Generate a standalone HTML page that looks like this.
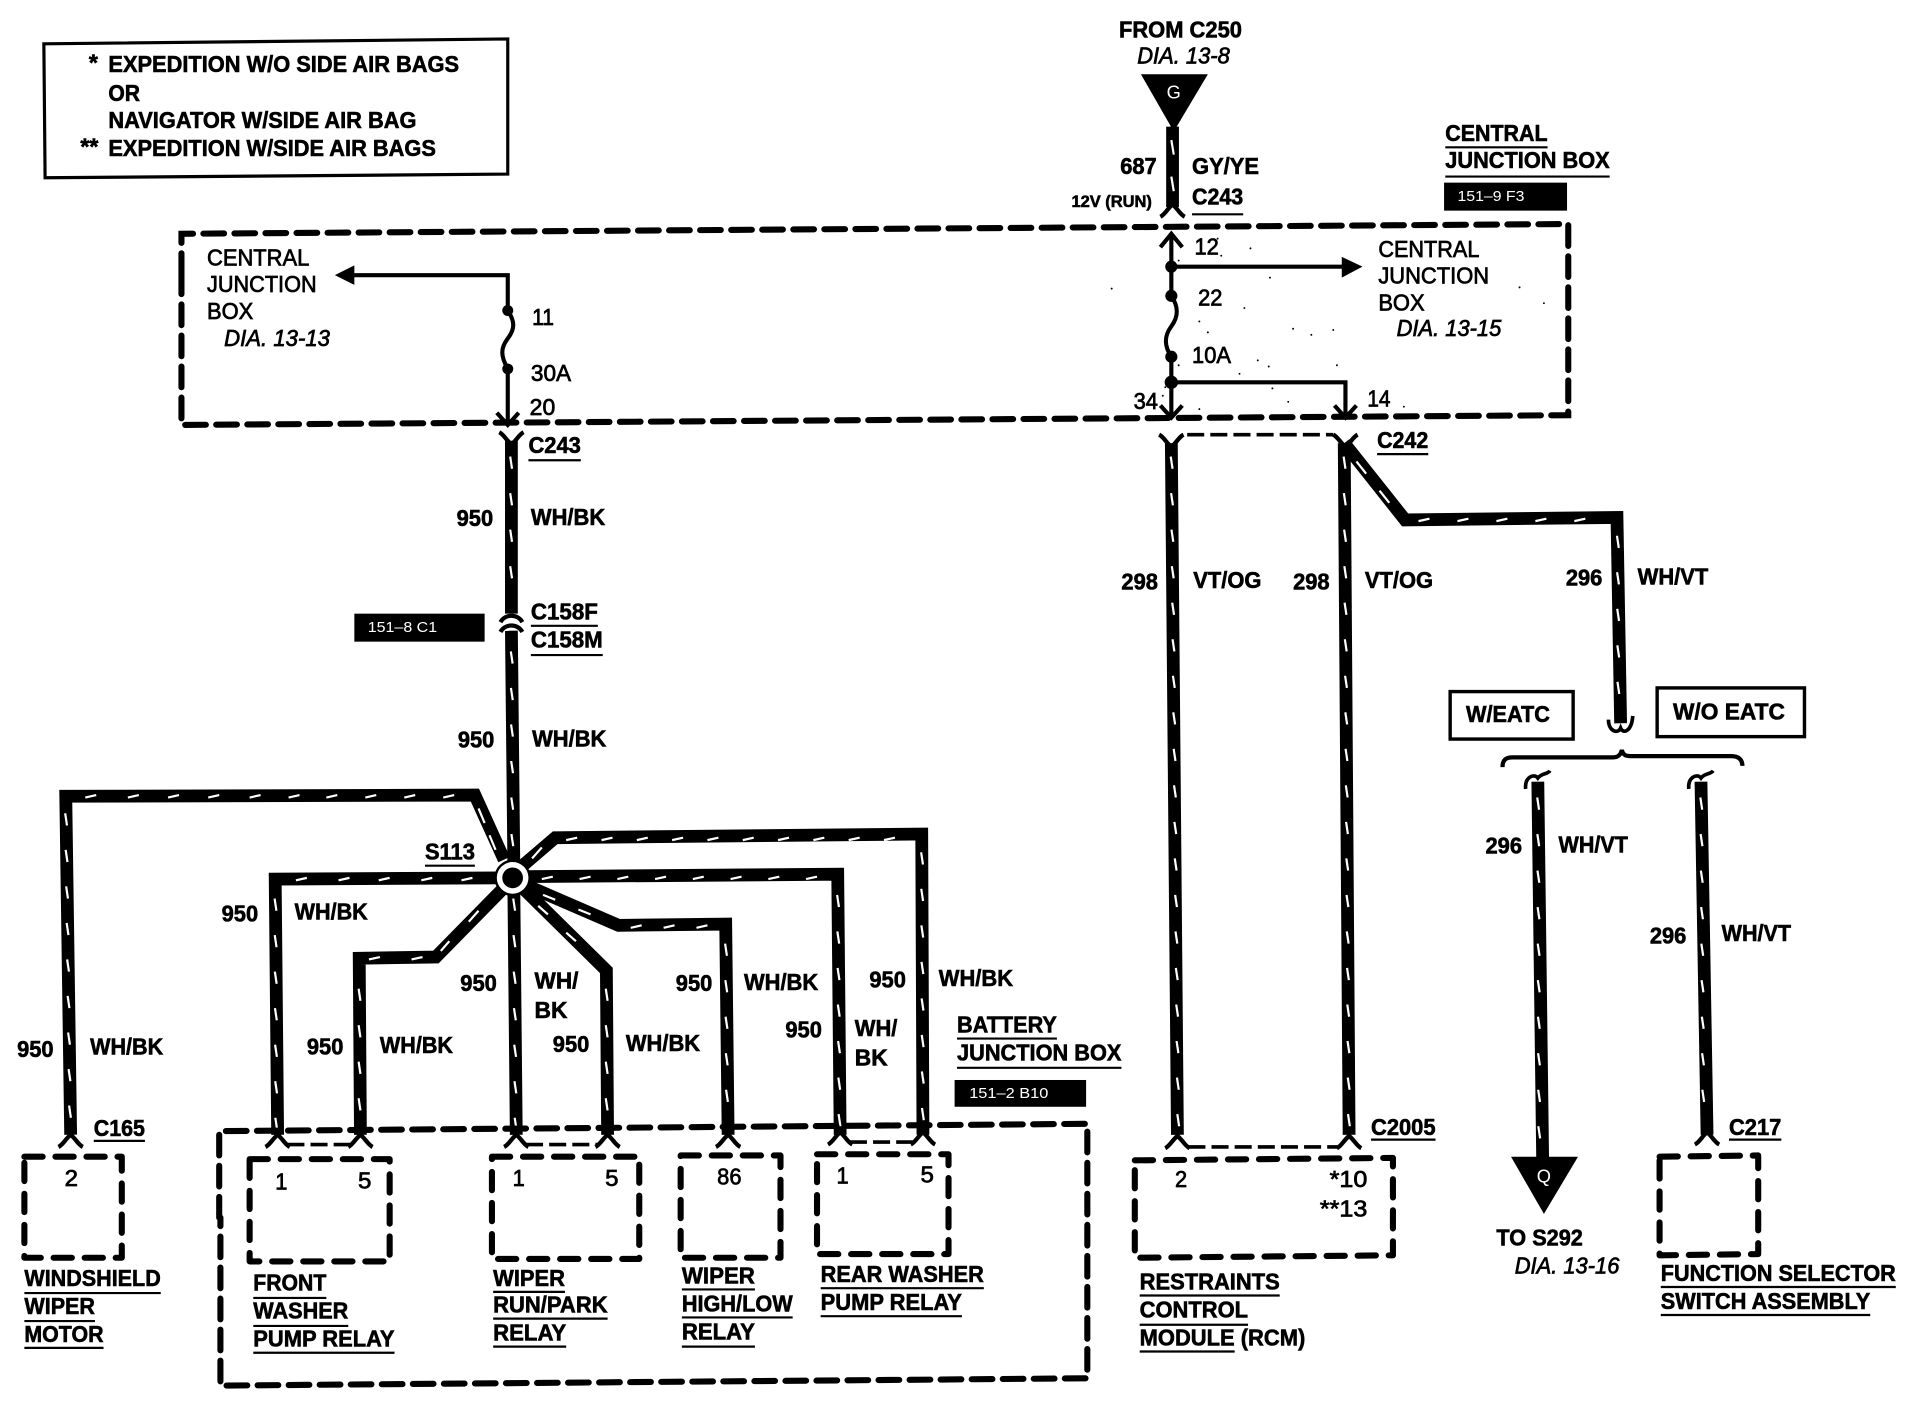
<!DOCTYPE html>
<html><head><meta charset="utf-8"><style>
html,body{margin:0;padding:0;background:#fff}
svg{display:block}
text{font-family:"Liberation Sans",Arial,sans-serif;font-size:19px;fill:#000;font-weight:bold;stroke:#000;stroke-width:.5px}
.r{font-weight:normal;stroke-width:.6px}
.i{font-style:italic;font-weight:normal;stroke-width:.6px}
.s{font-size:14px}
.w{font-weight:normal;font-size:12px;fill:#fff;stroke:none}
.k{fill:none;stroke:#000;stroke-width:10.5;stroke-linejoin:miter}
.d{fill:none;stroke:#fff;stroke-width:1.8}
.b{fill:none;stroke:#000;stroke-width:5;stroke-dasharray:17 8.5;stroke-linecap:round}
.c{fill:none;stroke:#000;stroke-width:5;stroke-dasharray:15 10.5;stroke-linecap:round;stroke-linejoin:round}
.t{fill:none;stroke:#000;stroke-width:3.4}
.u{stroke:#000;stroke-width:1.8}
.f{fill:none;stroke:#000;stroke-width:3.5}
.n{fill:none;stroke:#000;stroke-width:3;stroke-dasharray:14 5}
.p{fill:none;stroke:#000;stroke-width:1.6;stroke-linecap:round}
</style></head><body>
<svg width="1908" height="1408" viewBox="0 0 1567 1156.4" xmlns="http://www.w3.org/2000/svg">
<rect width="1567" height="1157" fill="#fff"/>
<defs>
<path id="fd" d="M-10,7 C-6,5 -4,0 0,-3 C4,0 6,5 10,7" fill="none" stroke="#000" stroke-width="3.5"/>
<path id="fu" d="M-10,-7 C-6,-5 -4,0 0,3 C4,0 6,-5 10,-7" fill="none" stroke="#000" stroke-width="3.5"/>
<path id="cu" d="M-10,-4 C-10,6 -2,8 0,3 C2,8 9,6 10,-7" fill="none" stroke="#000" stroke-width="3"/>
<path id="cd" d="M-10,6 C-11,-4 -3,-7 0,-3 C3,-7 8,-6 10,-9" fill="none" stroke="#000" stroke-width="3"/>
</defs>

<!-- legend -->
<polygon points="36,36 417,32 417,143 37,146" fill="none" stroke="#000" stroke-width="2.6"/>
<text x="73" y="58">*</text><text x="89" y="59" textLength="288" lengthAdjust="spacingAndGlyphs">EXPEDITION W/O SIDE AIR BAGS</text>
<text x="89" y="83" textLength="26" lengthAdjust="spacingAndGlyphs">OR</text>
<text x="89" y="105" textLength="253" lengthAdjust="spacingAndGlyphs">NAVIGATOR W/SIDE AIR BAG</text>
<text x="66" y="127">**</text><text x="89" y="128" textLength="269" lengthAdjust="spacingAndGlyphs">EXPEDITION W/SIDE AIR BAGS</text>

<!-- top feed -->
<text x="919" y="31" textLength="101" lengthAdjust="spacingAndGlyphs">FROM C250</text>
<text class="i" x="934" y="52" textLength="76" lengthAdjust="spacingAndGlyphs">DIA. 13-8</text>
<polygon points="937,61 992,61 964,108" fill="#000"/>
<text class="w" x="964" y="81" text-anchor="middle" style="font-size:15px">G</text>
<path class="k" d="M963,104V170"/><path class="d" d="M962,115l2,12M962,145l2,12"/>
<use href="#fd" x="963" y="171"/>
<text x="920" y="143" textLength="30" lengthAdjust="spacingAndGlyphs">687</text>
<text x="979" y="143" textLength="55" lengthAdjust="spacingAndGlyphs">GY/YE</text>
<text class="s" x="880" y="170" textLength="66" lengthAdjust="spacingAndGlyphs">12V (RUN)</text>
<text x="979" y="168" textLength="42" lengthAdjust="spacingAndGlyphs">C243</text>
<line class="u" x1="979" y1="176" x2="1021" y2="176"/>

<!-- central junction box label -->
<text x="1187" y="116" textLength="84" lengthAdjust="spacingAndGlyphs">CENTRAL</text>
<line class="u" x1="1187" y1="121" x2="1271" y2="121"/>
<text x="1187" y="138" textLength="135" lengthAdjust="spacingAndGlyphs">JUNCTION BOX</text>
<line class="u" x1="1187" y1="145" x2="1322" y2="145"/>
<rect x="1186" y="150" width="101" height="23" fill="#000"/>
<text class="w" x="1197" y="165" textLength="55" lengthAdjust="spacingAndGlyphs">151–9 F3</text>

<!-- main dashed box -->
<path class="b" d="M149,225V192L1288,184V341L149,349V225"/>

<!-- left side of junction box -->
<text class="r" x="170" y="218" textLength="84" lengthAdjust="spacingAndGlyphs">CENTRAL</text>
<text class="r" x="170" y="240" textLength="90" lengthAdjust="spacingAndGlyphs">JUNCTION</text>
<text class="r" x="170" y="262" textLength="38" lengthAdjust="spacingAndGlyphs">BOX</text>
<text class="i" x="184" y="284" textLength="87" lengthAdjust="spacingAndGlyphs">DIA. 13-13</text>
<path class="t" d="M290,226H417V255C423,264 423,270 417,278C411,286 411,292 417,303V347"/>
<polygon points="275,226 291,218 291,234" fill="#000"/>
<circle cx="417" cy="255" r="4.5"/><circle cx="417" cy="303" r="4.5"/>
<path class="t" d="M408,339L417,349L426,339"/>
<text x="437" y="267" class="r" textLength="18" lengthAdjust="spacingAndGlyphs">11</text>
<text x="436" y="313" class="r" textLength="33" lengthAdjust="spacingAndGlyphs">30A</text>
<text x="435" y="341" class="r" textLength="21" lengthAdjust="spacingAndGlyphs">20</text>

<!-- right side of junction box -->
<path class="t" d="M962,193V243C968,252 968,260 962,268C956,276 956,284 962,293V342"/>
<path class="t" d="M953,203L962,192L971,203"/>
<path class="t" d="M962,219H1104"/><polygon points="1119,219 1102,211 1102,228" fill="#000"/>
<path class="t" d="M962,314H1105V342"/>
<path class="t" d="M953,333L962,343L971,333"/><path class="t" d="M1096,333L1105,343L1114,333"/>
<circle cx="962" cy="219" r="5"/><circle cx="962" cy="243" r="5"/><circle cx="962" cy="293" r="5"/><circle cx="962" cy="314" r="5.5"/>
<path class="p" d="M1027,204h0M1043,228h0M913,237h0M985,264h0M992,273h0M1033,296h0M1042,301h0M1098,300h0M1062,270h0M1077,275h0M1095,271h0M1248,236h0M1268,249h0M1022,253h0M1018,307h0M1045,319h0M1058,330h0M985,336h0M1153,334h0M968,214h0M968,300h0M955,325h0M957,318h0M1003,210h0M1000,196h0"/>
<text class="r" x="981" y="209" textLength="20" lengthAdjust="spacingAndGlyphs">12</text>
<text class="r" x="984" y="251" textLength="20" lengthAdjust="spacingAndGlyphs">22</text>
<text class="r" x="979" y="298" textLength="32" lengthAdjust="spacingAndGlyphs">10A</text>
<text class="r" x="931" y="336" textLength="20" lengthAdjust="spacingAndGlyphs">34</text>
<text class="r" x="1123" y="334" textLength="19" lengthAdjust="spacingAndGlyphs">14</text>
<text class="r" x="1132" y="211" textLength="83" lengthAdjust="spacingAndGlyphs">CENTRAL</text>
<text class="r" x="1132" y="233" textLength="91" lengthAdjust="spacingAndGlyphs">JUNCTION</text>
<text class="r" x="1132" y="255" textLength="38" lengthAdjust="spacingAndGlyphs">BOX</text>
<text class="i" x="1147" y="276" textLength="86" lengthAdjust="spacingAndGlyphs">DIA. 13-15</text>

<!-- main wire 950 -->
<path class="k" d="M420,362V504"/>
<path class="d" d="M419,375l1.5,10m-1.5,20l1.5,10m-1.5,20l1.5,10m-1.5,20l1.5,10"/>
<use href="#fu" x="420" y="362"/>
<path class="f" d="M411,511C415,504 425,504 429,511"/>
<path class="f" d="M411,519C415,512 425,512 429,519"/>
<path class="k" d="M420,518L422,712"/>
<path class="d" d="M419.5,535l1.5,10m-1.4,20l1.5,10m-1.4,20l1.5,10m-1.4,20l1.5,10m-1.4,20l1.5,10m-1.4,20l1.5,10"/>
<text x="434" y="372" textLength="43" lengthAdjust="spacingAndGlyphs">C243</text>
<line class="u" x1="434" y1="378" x2="477" y2="378"/>
<text x="375" y="432" textLength="30" lengthAdjust="spacingAndGlyphs">950</text>
<text x="436" y="431" textLength="61" lengthAdjust="spacingAndGlyphs">WH/BK</text>
<text x="436" y="509" textLength="55" lengthAdjust="spacingAndGlyphs">C158F</text>
<line class="u" x1="436" y1="514" x2="491" y2="514"/>
<text x="436" y="532" textLength="59" lengthAdjust="spacingAndGlyphs">C158M</text>
<line class="u" x1="436" y1="538" x2="495" y2="538"/>
<rect x="291" y="504" width="107" height="23" fill="#000"/>
<text class="w" x="302" y="519" textLength="57" lengthAdjust="spacingAndGlyphs">151–8 C1</text>
<text x="376" y="614" textLength="30" lengthAdjust="spacingAndGlyphs">950</text>
<text x="437" y="613" textLength="61" lengthAdjust="spacingAndGlyphs">WH/BK</text>

<!-- star wires -->
<path class="k" d="M414,706L390,653L54,654L58,932"/>
<path class="d" d="M70,655l9,-2m26,2l9,-2m24,2l9,-2m24,2l9,-2m25,2l9,-2m23,2l9,-2m22,2l9,-2m23,2l9,-2m23,2l9,-2m23,2l9,-2"/>
<path class="d" d="M53.5,668l1.5,10m-1.1,20l1.5,10m-1.1,20l1.5,10m-1.1,20l1.5,10m-1.1,20l1.5,10m-1.1,20l1.5,10m-1.1,20l1.5,10m-1.1,20l1.5,10m-1.1,20l1.5,10"/>
<path class="d" d="M393,664l5,12M402,686l5,12"/>
<path class="k" d="M412,721L226,722L228,932"/>
<path class="d" d="M243,723l9,-2m26,2l9,-2m24,2l9,-2m26,2l9,-2m24,2l9,-2"/>
<path class="d" d="M225.5,738l1.5,10m-1.4,20l1.5,10m-1.4,20l1.5,10m-1.4,20l1.5,10m-1.4,20l1.5,10m-1.4,20l1.5,10m-1.4,20l1.5,10"/>
<path class="k" d="M413,730L358,786L295,787L296,932"/>
<path class="d" d="M303,788l9,-2m26,2l9,-2M362,781l7,-8M385,757l8,-9"/>
<path class="d" d="M294.5,812l1.5,10m-1.5,20l1.5,10m-1.5,20l1.5,10m-1.5,20l1.5,10"/>
<path class="k" d="M422,730L424,932"/>
<path class="d" d="M421.5,738l1.5,10m-1.3,20l1.5,10m-1.3,20l1.5,10m-1.3,20l1.5,10m-1.3,20l1.5,10m-1.3,20l1.5,10m-1.3,20l1.5,10"/>
<path class="k" d="M430,730L498,797L499,932"/>
<path class="d" d="M442,744l8,7M465,766l8,7"/>
<path class="d" d="M497.5,812l1.5,10m-1.5,20l1.5,10m-1.5,20l1.5,10m-1.5,20l1.5,10"/>
<path class="k" d="M434,728L508,760L596,759L598,932"/>
<path class="d" d="M446,735l10,4M475,747l10,4M518,762l9,-2m18,2l9,-2m18,2l9,-2"/>
<path class="d" d="M595.5,775l1.5,10m-1.3,20l1.5,10m-1.3,20l1.5,10m-1.3,20l1.5,10m-1.3,20l1.5,10"/>
<path class="k" d="M432,720L688,718L690,932"/>
<path class="d" d="M445,722l9,-2m22,2l9,-2m22,2l9,-2m22,2l9,-2m22,2l9,-2m22,2l9,-2m22,2l9,-2m22,2l9,-2"/>
<path class="d" d="M687.5,735l1.5,10m-1.3,20l1.5,10m-1.3,20l1.5,10m-1.3,20l1.5,10m-1.3,20l1.5,10m-1.3,20l1.5,10m-1.3,20l1.5,10"/>
<path class="k" d="M428,712L456,688L757,685L758,932"/>
<path class="d" d="M437,705l8,-9M465,690l9,-2m20,2l9,-2m20,2l9,-2m20,2l9,-2m20,2l9,-2m20,2l9,-2m20,2l9,-2m20,2l9,-2m20,2l9,-2m20,2l9,-2"/>
<path class="d" d="M756.5,700l1.5,10m-1.4,20l1.5,10m-1.4,20l1.5,10m-1.4,20l1.5,10m-1.4,20l1.5,10m-1.4,20l1.5,10m-1.4,20l1.5,10m-1.4,20l1.5,10"/>
<circle cx="421" cy="721" r="15" fill="#000"/><circle cx="421" cy="721" r="13" fill="#fff"/><circle cx="421" cy="721" r="8.5" fill="#000"/>
<text x="349" y="706" textLength="41" lengthAdjust="spacingAndGlyphs">S113</text>
<line class="u" x1="349" y1="711" x2="390" y2="711"/>

<!-- bottom connectors -->
<use href="#fd" x="58" y="935"/>
<use href="#fd" x="228" y="935"/><use href="#fd" x="296" y="935"/>
<use href="#fd" x="424" y="935"/><use href="#fd" x="499" y="935"/>
<use href="#fd" x="598" y="935"/>
<use href="#fd" x="690" y="933"/><use href="#fd" x="758" y="933"/>
<path class="n" d="M236,940H288M432,940H491M698,938H750"/>

<text x="182" y="757" textLength="30" lengthAdjust="spacingAndGlyphs">950</text>
<text x="242" y="755" textLength="60" lengthAdjust="spacingAndGlyphs">WH/BK</text>
<text x="14" y="868" textLength="30" lengthAdjust="spacingAndGlyphs">950</text>
<text x="74" y="866" textLength="60" lengthAdjust="spacingAndGlyphs">WH/BK</text>
<text x="252" y="866" textLength="30" lengthAdjust="spacingAndGlyphs">950</text>
<text x="312" y="865" textLength="60" lengthAdjust="spacingAndGlyphs">WH/BK</text>
<text x="378" y="814" textLength="30" lengthAdjust="spacingAndGlyphs">950</text>
<text x="439" y="812" textLength="36" lengthAdjust="spacingAndGlyphs">WH/</text>
<text x="439" y="836" textLength="27" lengthAdjust="spacingAndGlyphs">BK</text>
<text x="454" y="864" textLength="30" lengthAdjust="spacingAndGlyphs">950</text>
<text x="514" y="863" textLength="61" lengthAdjust="spacingAndGlyphs">WH/BK</text>
<text x="555" y="814" textLength="30" lengthAdjust="spacingAndGlyphs">950</text>
<text x="611" y="813" textLength="61" lengthAdjust="spacingAndGlyphs">WH/BK</text>
<text x="645" y="852" textLength="30" lengthAdjust="spacingAndGlyphs">950</text>
<text x="702" y="851" textLength="35" lengthAdjust="spacingAndGlyphs">WH/</text>
<text x="702" y="875" textLength="27" lengthAdjust="spacingAndGlyphs">BK</text>
<text x="714" y="811" textLength="30" lengthAdjust="spacingAndGlyphs">950</text>
<text x="771" y="810" textLength="61" lengthAdjust="spacingAndGlyphs">WH/BK</text>
<text x="786" y="848" textLength="82" lengthAdjust="spacingAndGlyphs">BATTERY</text>
<line class="u" x1="786" y1="853" x2="868" y2="853"/>
<text x="786" y="871" textLength="135" lengthAdjust="spacingAndGlyphs">JUNCTION BOX</text>
<line class="u" x1="786" y1="877" x2="921" y2="877"/>
<rect x="784" y="887" width="108" height="22" fill="#000"/>
<text class="w" x="796" y="902" textLength="65" lengthAdjust="spacingAndGlyphs">151–2 B10</text>
<text x="77" y="933" textLength="42" lengthAdjust="spacingAndGlyphs">C165</text>
<line class="u" x1="77" y1="937" x2="119" y2="937"/>

<!-- windshield box -->
<path class="c" d="M20,950H100V1033H20Z"/>
<text class="r" x="53" y="974" textLength="11" lengthAdjust="spacingAndGlyphs">2</text>
<text x="20" y="1056" textLength="112" lengthAdjust="spacingAndGlyphs">WINDSHIELD</text>
<line class="u" x1="20" y1="1062" x2="132" y2="1062"/>
<text x="20" y="1079" textLength="58" lengthAdjust="spacingAndGlyphs">WIPER</text>
<line class="u" x1="20" y1="1085" x2="78" y2="1085"/>
<text x="20" y="1102" textLength="65" lengthAdjust="spacingAndGlyphs">MOTOR</text>
<line class="u" x1="20" y1="1107" x2="85" y2="1107"/>

<!-- battery box -->
<path class="b" d="M180,1000V929L893,923V1132L181,1138V1000"/>
<path class="c" d="M205,952H320V1036H205Z"/>
<text class="r" x="226" y="977" textLength="10" lengthAdjust="spacingAndGlyphs">1</text>
<text class="r" x="294" y="976" textLength="11" lengthAdjust="spacingAndGlyphs">5</text>
<text x="208" y="1060" textLength="60" lengthAdjust="spacingAndGlyphs">FRONT</text>
<line class="u" x1="208" y1="1066" x2="268" y2="1066"/>
<text x="208" y="1083" textLength="78" lengthAdjust="spacingAndGlyphs">WASHER</text>
<line class="u" x1="208" y1="1089" x2="286" y2="1089"/>
<text x="208" y="1106" textLength="116" lengthAdjust="spacingAndGlyphs">PUMP RELAY</text>
<line class="u" x1="208" y1="1111" x2="324" y2="1111"/>

<path class="c" d="M404,950H525V1034H404Z"/>
<text class="r" x="421" y="974" textLength="10" lengthAdjust="spacingAndGlyphs">1</text>
<text class="r" x="497" y="974" textLength="11" lengthAdjust="spacingAndGlyphs">5</text>
<text x="405" y="1056" textLength="59" lengthAdjust="spacingAndGlyphs">WIPER</text>
<line class="u" x1="405" y1="1061" x2="464" y2="1061"/>
<text x="405" y="1078" textLength="94" lengthAdjust="spacingAndGlyphs">RUN/PARK</text>
<line class="u" x1="405" y1="1083" x2="499" y2="1083"/>
<text x="405" y="1101" textLength="60" lengthAdjust="spacingAndGlyphs">RELAY</text>
<line class="u" x1="405" y1="1106" x2="465" y2="1106"/>

<path class="c" d="M559,949H641V1033H559Z"/>
<text class="r" x="589" y="973" textLength="20" lengthAdjust="spacingAndGlyphs">86</text>
<text x="560" y="1054" textLength="60" lengthAdjust="spacingAndGlyphs">WIPER</text>
<line class="u" x1="560" y1="1059" x2="620" y2="1059"/>
<text x="560" y="1077" textLength="91" lengthAdjust="spacingAndGlyphs">HIGH/LOW</text>
<line class="u" x1="560" y1="1082" x2="651" y2="1082"/>
<text x="560" y="1100" textLength="60" lengthAdjust="spacingAndGlyphs">RELAY</text>
<line class="u" x1="560" y1="1106" x2="620" y2="1106"/>

<path class="c" d="M671,948H779V1030H671Z"/>
<text class="r" x="687" y="972" textLength="10" lengthAdjust="spacingAndGlyphs">1</text>
<text class="r" x="756" y="971" textLength="11" lengthAdjust="spacingAndGlyphs">5</text>
<text x="674" y="1053" textLength="134" lengthAdjust="spacingAndGlyphs">REAR WASHER</text>
<line class="u" x1="674" y1="1058" x2="808" y2="1058"/>
<text x="674" y="1076" textLength="116" lengthAdjust="spacingAndGlyphs">PUMP RELAY</text>
<line class="u" x1="674" y1="1081" x2="790" y2="1081"/>

<!-- 298 wires -->
<path class="n" d="M975,357H1095"/>
<path class="k" d="M962,364L967,932"/>
<path class="d" d="M961.5,375l1.5,10m-1.2,20l1.5,10m-1.2,20l1.5,10m-1.2,20l1.5,10m-1.2,20l1.5,10m-1.2,20l1.5,10m-1.2,20l1.5,10m-1.2,20l1.5,10m-1.2,20l1.5,10m-1.2,20l1.5,10m-1.2,20l1.5,10m-1.2,20l1.5,10m-1.2,20l1.5,10m-1.2,20l1.5,10m-1.2,20l1.5,10m-1.2,20l1.5,10m-1.2,20l1.5,10m-1.2,20l1.5,10m-1.2,20l1.5,10"/>
<path class="k" d="M1104,364L1108,932"/>
<path class="d" d="M1103.5,375l1.5,10m-1.3,20l1.5,10m-1.3,20l1.5,10m-1.3,20l1.5,10m-1.3,20l1.5,10m-1.3,20l1.5,10m-1.3,20l1.5,10m-1.3,20l1.5,10m-1.3,20l1.5,10m-1.3,20l1.5,10m-1.3,20l1.5,10m-1.3,20l1.5,10m-1.3,20l1.5,10m-1.3,20l1.5,10m-1.3,20l1.5,10m-1.3,20l1.5,10m-1.3,20l1.5,10m-1.3,20l1.5,10m-1.3,20l1.5,10"/>
<use href="#fu" x="962" y="364"/><use href="#fu" x="1105" y="364"/>
<path class="k" d="M1104,364L1154,427L1328,425L1331,594"/>
<path class="d" d="M1114,379l8,10M1133,403l8,10M1165,428l9,-2m23,2l9,-2m23,2l9,-2m23,2l9,-2m23,2l9,-2"/>
<path class="d" d="M1328,440l1.5,10m-1.4,20l1.5,10m-1.4,20l1.5,10m-1.4,20l1.5,10m-1.4,20l1.5,10"/>
<text x="921" y="484" textLength="30" lengthAdjust="spacingAndGlyphs">298</text>
<text x="980" y="483" textLength="56" lengthAdjust="spacingAndGlyphs">VT/OG</text>
<text x="1062" y="484" textLength="30" lengthAdjust="spacingAndGlyphs">298</text>
<text x="1121" y="483" textLength="56" lengthAdjust="spacingAndGlyphs">VT/OG</text>
<text x="1131" y="368" textLength="42" lengthAdjust="spacingAndGlyphs">C242</text>
<line class="u" x1="1131" y1="373" x2="1173" y2="373"/>
<text x="1286" y="481" textLength="30" lengthAdjust="spacingAndGlyphs">296</text>
<text x="1345" y="480" textLength="58" lengthAdjust="spacingAndGlyphs">WH/VT</text>
<use href="#fd" x="967" y="936"/><use href="#fd" x="1108" y="936"/>
<path class="n" d="M976,942H1100"/>
<text x="1126" y="932" textLength="53" lengthAdjust="spacingAndGlyphs">C2005</text>
<line class="u" x1="1126" y1="936" x2="1179" y2="936"/>

<path class="c" d="M932,953L1144,951V1031L932,1033Z"/>
<text class="r" x="965" y="975" textLength="10" lengthAdjust="spacingAndGlyphs">2</text>
<text class="r" x="1092" y="975" textLength="31" lengthAdjust="spacingAndGlyphs">*10</text>
<text class="r" x="1084" y="999" textLength="39" lengthAdjust="spacingAndGlyphs">**13</text>
<text x="936" y="1059" textLength="115" lengthAdjust="spacingAndGlyphs">RESTRAINTS</text>
<line class="u" x1="936" y1="1064" x2="1051" y2="1064"/>
<text x="936" y="1082" textLength="89" lengthAdjust="spacingAndGlyphs">CONTROL</text>
<line class="u" x1="936" y1="1088" x2="1025" y2="1088"/>
<text x="936" y="1105" textLength="78" lengthAdjust="spacingAndGlyphs">MODULE</text>
<text x="1019" y="1105" textLength="53" lengthAdjust="spacingAndGlyphs">(RCM)</text>
<line class="u" x1="936" y1="1110" x2="1014" y2="1110"/>

<!-- EATC -->
<rect x="1191" y="568" width="101" height="39" fill="none" stroke="#000" stroke-width="2.8"/>
<text x="1204" y="593" textLength="69" lengthAdjust="spacingAndGlyphs">W/EATC</text>
<rect x="1361" y="565" width="121" height="40" fill="none" stroke="#000" stroke-width="2.8"/>
<text x="1374" y="591" textLength="92" lengthAdjust="spacingAndGlyphs">W/O  EATC</text>
<use href="#cu" x="1331" y="595"/>
<path class="f" d="M1234,630C1234,624 1237,622 1242,622H1325C1329,622 1331,620 1332,616C1333,620 1335,621 1339,621H1422C1428,621 1431,624 1431,629"/>

<path class="k" d="M1263,642L1267,955"/>
<path class="d" d="M1262.5,655l1.5,10m-1.4,20l1.5,10m-1.4,20l1.5,10m-1.4,20l1.5,10m-1.4,20l1.5,10m-1.4,20l1.5,10m-1.4,20l1.5,10m-1.4,20l1.5,10m-1.4,20l1.5,10m-1.4,20l1.5,10"/>
<use href="#cd" x="1263" y="642"/>
<polygon points="1241,950 1296,950 1268,997" fill="#000"/>
<text class="w" x="1268" y="971" text-anchor="middle" style="font-size:15px">Q</text>
<text x="1220" y="701" textLength="30" lengthAdjust="spacingAndGlyphs">296</text>
<text x="1280" y="700" textLength="57" lengthAdjust="spacingAndGlyphs">WH/VT</text>
<text x="1229" y="1023" textLength="71" lengthAdjust="spacingAndGlyphs">TO S292</text>
<text class="i" x="1244" y="1046" textLength="86" lengthAdjust="spacingAndGlyphs">DIA. 13-16</text>

<path class="k" d="M1397,642L1402,932"/>
<path class="d" d="M1396.5,655l1.5,10m-1.3,20l1.5,10m-1.3,20l1.5,10m-1.3,20l1.5,10m-1.3,20l1.5,10m-1.3,20l1.5,10m-1.3,20l1.5,10m-1.3,20l1.5,10m-1.3,20l1.5,10"/>
<use href="#cd" x="1397" y="642"/>
<use href="#fd" x="1402" y="933"/>
<text x="1355" y="775" textLength="30" lengthAdjust="spacingAndGlyphs">296</text>
<text x="1414" y="773" textLength="57" lengthAdjust="spacingAndGlyphs">WH/VT</text>
<text x="1420" y="932" textLength="43" lengthAdjust="spacingAndGlyphs">C217</text>
<line class="u" x1="1420" y1="936" x2="1463" y2="936"/>
<path class="c" d="M1363,950L1444,949V1030L1363,1031Z"/>
<text x="1364" y="1052" textLength="193" lengthAdjust="spacingAndGlyphs">FUNCTION SELECTOR</text>
<line class="u" x1="1364" y1="1057" x2="1557" y2="1057"/>
<text x="1364" y="1075" textLength="172" lengthAdjust="spacingAndGlyphs">SWITCH ASSEMBLY</text>
<line class="u" x1="1364" y1="1080" x2="1536" y2="1080"/>
</svg>
</body></html>
